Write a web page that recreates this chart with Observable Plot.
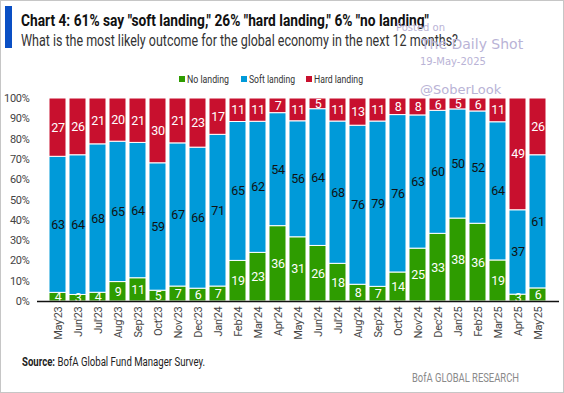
<!DOCTYPE html>
<html>
<head>
<meta charset="utf-8">
<script src="https://cdn.jsdelivr.net/npm/d3@7"></script>
<script src="https://cdn.jsdelivr.net/npm/@observablehq/plot@0.6"></script>
<style>
  html, body { margin: 0; padding: 0; background: #fff; }
  #frame { position: relative; width: 564px; height: 393px; box-sizing: border-box; border: 1px solid #c6c6c6; overflow: hidden;
    font-family: Roboto, "Liberation Sans", sans-serif; color: #222; }
  .abs { position: absolute; white-space: nowrap; transform-origin: 0 0; }
  #accent { left: 4px; top: 5px; width: 7px; height: 42px; background: #0a4fc4; }
  #title { left: 20px; top: 10px; font-size: 16.5px; font-weight: bold; color: #111; }
  #subtitle { left: 20px; top: 30px; font-size: 16.5px; color: #333; }
  .wm { color: #b9b3d6; font-family: "DejaVu Sans", sans-serif; }
  .leg { top: 71px; font-size: 11.5px; color: #333; }
  .sw { top: 75px; width: 6px; height: 6px; }
  #chart { left: 0; top: 88px; }
  #source { left: 21px; top: 353px; font-size: 12.5px; color: #222; }
  #brand { left: 411px; top: 369px; font-size: 12.5px; color: #8a8a8a; }
</style>
</head>
<body>
<div id="frame">
  <div id="accent" class="abs"></div>
  <div id="chart" class="abs"></div>
  <div id="title" class="abs">Chart 4: 61% say "soft landing," 26% "hard landing," 6% "no landing"</div>
  <div id="subtitle" class="abs">What is the most likely outcome for the global economy in the next 12 months?</div>
  <div class="abs wm" style="left:395px; top:21px; font-size:10px;">Posted on</div>
  <div class="abs wm" style="left:420px; top:35px; font-size:14px;">The Daily Shot</div>
  <div class="abs wm" style="left:419px; top:55px; font-size:10px;">19-May-2025</div>
  <div class="abs wm" style="left:419px; top:81px; font-size:13px;">@SoberLook</div>
  <div id="source" class="abs"><b>Source:</b> BofA Global Fund Manager Survey.</div>
  <div id="brand" class="abs">BofA GLOBAL RESEARCH</div>
</div>
<script>
const months = ["May'23","Jun'23","Jul'23","Aug'23","Sep'23","Oct'23","Nov'23","Dec'23","Jan'24","Feb'24","Mar'24","Apr'24","May'24","Jun'24","Jul'24","Aug'24","Sep'24","Oct'24","Nov'24","Dec'24","Jan'25","Feb'25","Mar'25","Apr'25","May'25"];
const noLanding   = [4,3,4,9,11,5,7,6,7,19,23,36,31,26,18,8,7,14,25,33,38,36,19,3,6];
const softLanding = [63,64,68,65,64,59,67,66,71,65,62,54,56,64,68,76,79,76,63,60,50,52,64,37,61];
const hardLanding = [27,26,21,20,21,30,21,23,17,11,11,7,11,5,11,13,11,8,8,6,5,6,11,49,26];
const seriesNames = ["No landing","Soft landing","Hard landing"];
const seriesColors = ["#2e9c00","#009ad9","#c8102e"];
const yTicks = [0,0.1,0.2,0.3,0.4,0.5,0.6,0.7,0.8,0.9,1];

const seriesValues = [noLanding, softLanding, hardLanding];
const rows = [];
months.forEach((m, i) => {
  seriesNames.forEach((s, k) => rows.push({month: m, type: s, value: seriesValues[k][i]}));
});

const frame = document.getElementById("frame");
function fit(el, w) {
  const cur = el.getBoundingClientRect().width;
  if (cur > 0) el.style.transform = `scaleX(${w / cur})`;
}

// legend (positions from the reference)
const legPos = [[178, 186, 42], [240, 248, 46], [305, 313, 49]];
seriesNames.forEach((s, k) => {
  const sw = document.createElement("div");
  sw.className = "abs sw";
  sw.style.left = legPos[k][0] + "px";
  sw.style.background = seriesColors[k];
  frame.appendChild(sw);
  const t = document.createElement("div");
  t.className = "abs leg";
  t.style.left = legPos[k][1] + "px";
  t.textContent = s;
  frame.appendChild(t);
  fit(t, legPos[k][2]);
});

fit(document.getElementById("title"), 408);
fit(document.getElementById("subtitle"), 437);
fit(document.getElementById("source"), 183);
fit(document.getElementById("brand"), 107);

const stackOpts = {x: "month", y: "value", z: "type", offset: "normalize"};
const plot = Plot.plot({
  width: 562,
  height: 265,
  marginTop: 9,
  marginBottom: 53,
  marginLeft: 36,
  marginRight: 4,
  style: {fontFamily: 'Roboto, sans-serif', fontSize: "11px", color: "#444", background: "transparent", letterSpacing: "-0.3px"},
  x: {domain: months, padding: 0.14, label: null, tickSize: 0, tickRotate: -90, tickPadding: 5},
  y: {domain: [0, 1], ticks: yTicks, tickFormat: d => Math.round(d * 100) + "%", label: null, tickSize: 0, tickPadding: 8},
  color: {domain: seriesNames, range: seriesColors},
  marks: [
    Plot.barY(rows, Plot.stackY({...stackOpts, fill: "type", stroke: "white", strokeWidth: 1})),
    Plot.text(rows, Plot.stackY({...stackOpts, text: d => d.type === "Soft landing" ? d.value : null, fill: "#111", fontSize: 12.5})),
    Plot.text(rows, Plot.stackY({...stackOpts, text: d => d.type !== "Soft landing" ? d.value : null, fill: "white", fontSize: 12.5})),
    Plot.ruleY([0], {stroke: "#111", strokeWidth: 1.5})
  ]
});
document.getElementById("chart").appendChild(plot);
</script>
</body>
</html>
